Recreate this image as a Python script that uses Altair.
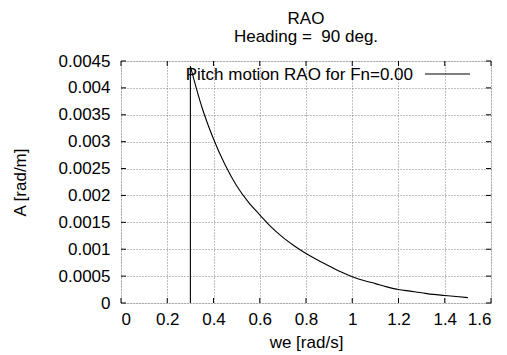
import altair as alt
import pandas as pd

# Data (we [rad/s], A [rad/m])
we = [0.30, 0.35, 0.40, 0.45, 0.50, 0.55, 0.60, 0.65, 0.70,
      0.75, 0.80, 0.85, 0.90, 0.95, 1.00, 1.05, 1.10, 1.15, 1.20, 1.25, 1.30,
      1.35, 1.40, 1.45, 1.50]
amp = [0.0044, 0.00364, 0.00305, 0.00257, 0.00218, 0.00188,
       0.00164, 0.00141, 0.00122, 0.00106, 0.00092, 0.00080, 0.00069, 0.00058,
       0.00049, 0.00042, 0.00036, 0.00030, 0.00025, 0.00022, 0.00019, 0.00016,
       0.00014, 0.00012, 0.00010]
# the drop line at the first frequency
drop_we = [0.30, 0.30]
drop_amp = [0.0, 0.0044]
x_ticks = [0, 0.2, 0.4, 0.6, 0.8, 1.0, 1.2, 1.4, 1.6]
y_ticks = [0, 0.0005, 0.001, 0.0015, 0.002, 0.0025, 0.003, 0.0035, 0.004, 0.0045]
series_label = "Pitch motion RAO for Fn=0.00"
title_lines = ["RAO", "Heading = \u00a090 deg."]

W, H = 370, 242
FONT = "Liberation Sans"
FS = 17

df = pd.DataFrame({"we": we, "A": amp})
drop = pd.DataFrame({"we": drop_we, "A": drop_amp, "i": [0, 1]})
xt = pd.DataFrame({"we": x_ticks})
yt = pd.DataFrame({"A": y_ticks})

xs = alt.Scale(domain=[0, 1.6], nice=False, zero=False)
ys = alt.Scale(domain=[0, 0.0045], nice=False)

common = dict(grid=True, gridColor="#808080", gridDash=[1, 2], gridWidth=1,
              ticks=False, domain=False, labelFont=FONT, labelFontSize=FS,
              labelColor="black", labelOverlap=False, titleFont=FONT,
              titleFontSize=FS, titleFontWeight="normal", titleColor="black",
              format="~g")
ax_x = alt.Axis(values=x_ticks, labelPadding=8, title="we [rad/s]",
                titlePadding=7, **common)
ax_y = alt.Axis(values=y_ticks, labelPadding=11, title="A [rad/m]",
                titlePadding=29, **common)

X = alt.X("we:Q", scale=xs, axis=ax_x)
Y = alt.Y("A:Q", scale=ys, axis=ax_y)

line = alt.Chart(df).mark_line(color="black", strokeWidth=1.1,
                               interpolate="monotone").encode(x=X, y=Y)
drop_line = alt.Chart(drop).mark_line(color="black", strokeWidth=1.1).encode(
    x=X, y=Y, order="i:Q")

TL = 5
xtick_b = alt.Chart(xt).mark_rule(color="black", strokeWidth=1).encode(
    x=X, y=alt.value(H), y2=alt.value(H - TL))
xtick_t = alt.Chart(xt).mark_rule(color="black", strokeWidth=1).encode(
    x=X, y=alt.value(0), y2=alt.value(TL))
ytick_l = alt.Chart(yt).mark_rule(color="black", strokeWidth=1).encode(
    y=Y, x=alt.value(0), x2=alt.value(TL))
ytick_r = alt.Chart(yt).mark_rule(color="black", strokeWidth=1).encode(
    y=Y, x=alt.value(W), x2=alt.value(W - TL))

legend_df = pd.DataFrame({"label": [series_label]})
legend_text = alt.Chart(legend_df).mark_text(
    align="right", baseline="alphabetic", font=FONT, fontSize=FS, color="black"
).encode(text="label:N", x=alt.value(292), y=alt.value(18.5))
legend_line = alt.Chart(legend_df).mark_rule(color="black", strokeWidth=1).encode(
    x=alt.value(304), x2=alt.value(349), y=alt.value(13))

chart = alt.layer(
    line, drop_line, xtick_b, xtick_t, ytick_l, ytick_r, legend_text, legend_line
).properties(
    width=W, height=H,
    title=alt.TitleParams(title_lines, anchor="middle", font=FONT, fontSize=FS,
                          fontWeight="normal", color="black", lineHeight=18,
                          offset=6),
    autosize=alt.AutoSizeParams(type="none"),
    padding={"left": 113, "top": 53, "right": 8, "bottom": 52},
).configure_view(stroke="black", strokeWidth=1.2).configure(background="white")

chart.save("out.html", embed_options={"renderer": "svg", "actions": False})
